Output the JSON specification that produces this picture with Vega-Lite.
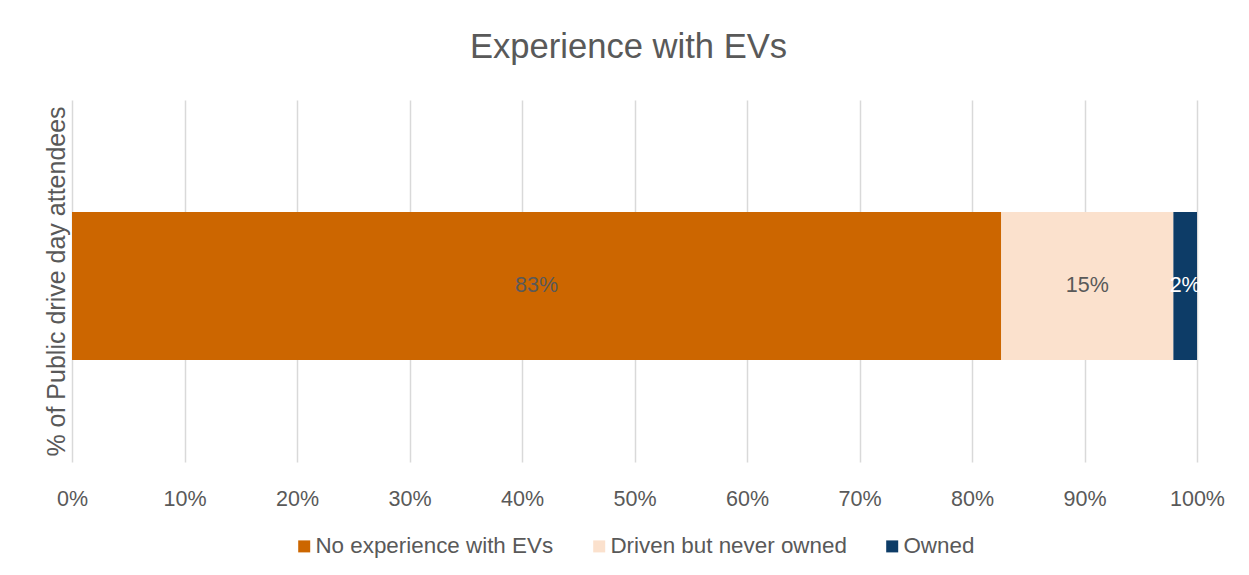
{
  "$schema": "https://vega.github.io/schema/vega-lite/v6.json",
  "autosize": {"type": "none"},
  "width": 1125,
  "height": 362,
  "padding": {"left": 72, "top": 100, "right": 52, "bottom": 113},
  "background": "white",
  "title": {
    "text": "Experience with EVs",
    "font": "Liberation Sans",
    "fontSize": 34.6,
    "fontWeight": "normal",
    "color": "#595959",
    "anchor": "middle",
    "frame": "group",
    "baseline": "alphabetic",
    "offset": 7,
    "dx": -6
  },
  "data": {
    "values": [
      {"group": "Attendees", "category": "No experience with EVs", "value": 0.826, "rank": 1},
      {"group": "Attendees", "category": "Driven but never owned", "value": 0.153, "rank": 2},
      {"group": "Attendees", "category": "Owned", "value": 0.021, "rank": 3}
    ]
  },
  "transform": [
    {"stack": "value", "groupby": ["group"], "sort": [{"field": "rank", "order": "ascending"}], "as": ["v0", "v1"]},
    {"calculate": "(datum.v0 + datum.v1) / 2", "as": "mid"}
  ],
  "encoding": {
    "y": {
      "field": "group",
      "type": "nominal",
      "scale": {"paddingInner": 0, "paddingOuter": 0.723, "align": 0.523},
      "axis": {
        "labels": false,
        "ticks": false,
        "domain": false,
        "grid": false,
        "title": "% of Public drive day attendees",
        "titleFont": "Liberation Sans",
        "titleFontSize": 25,
        "titleFontWeight": "normal",
        "titleColor": "#595959",
        "titleAngle": -90,
        "titleAlign": "center",
        "titleBaseline": "alphabetic",
        "titleX": -8,
        "titleY": 181
      }
    }
  },
  "layer": [
    {
      "mark": {"type": "bar"},
      "encoding": {
        "x": {
          "field": "v0",
          "type": "quantitative",
          "scale": {"domain": [0, 1], "nice": false},
          "axis": {
            "values": [0, 0.1, 0.2, 0.3, 0.4, 0.5, 0.6, 0.7, 0.8, 0.9, 1],
            "format": ".0%",
            "title": null,
            "grid": true,
            "gridColor": "#d9d9d9",
            "gridWidth": 1.5,
            "domain": false,
            "ticks": false,
            "labelFlush": false,
            "labelOverlap": false,
            "labelFont": "Liberation Sans",
            "labelFontSize": 21.5,
            "labelColor": "#595959",
            "labelBaseline": "alphabetic",
            "labelPadding": 43
          }
        },
        "x2": {"field": "v1"},
        "color": {
          "field": "category",
          "type": "nominal",
          "sort": ["No experience with EVs", "Driven but never owned", "Owned"],
          "scale": {
            "domain": ["No experience with EVs", "Driven but never owned", "Owned"],
            "range": ["#CC6600", "#FBE1CD", "#0D3C67"]
          },
          "legend": {
            "title": null,
            "orient": "none",
            "direction": "horizontal",
            "legendX": 221,
            "legendY": 435,
            "symbolType": "square",
            "symbolSize": 144,
            "symbolStrokeWidth": 0,
            "labelFont": "Liberation Sans",
            "labelFontSize": 22.4,
            "labelColor": "#595959",
            "labelOffset": 0,
            "labelLimit": 0,
            "columnPadding": 34,
            "padding": 0
          }
        }
      }
    },
    {
      "mark": {"type": "text", "font": "Liberation Sans", "fontSize": 21.5, "baseline": "middle", "align": "center"},
      "encoding": {
        "x": {"field": "mid", "type": "quantitative"},
        "text": {"field": "value", "type": "quantitative", "format": ".0%"},
        "color": {
          "condition": {"test": "datum.category === 'Owned'", "value": "white"},
          "value": "#595959"
        }
      }
    }
  ],
  "config": {
    "view": {"stroke": null}
  }
}
